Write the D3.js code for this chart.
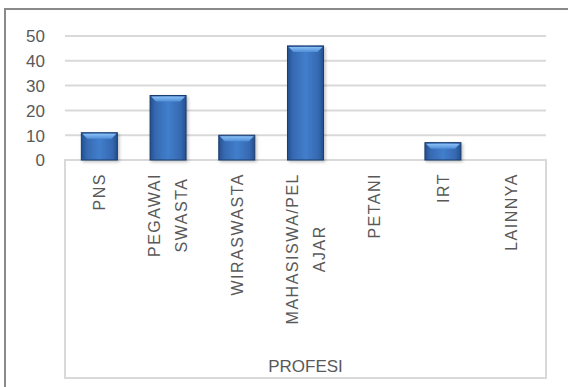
<!DOCTYPE html>
<html><head><meta charset="utf-8">
<script src="https://cdn.jsdelivr.net/npm/d3@7"></script>
<style>body{margin:0;background:#fff}svg{display:block}</style>
</head><body>
<svg id="c" width="568" height="387"></svg>
<script>
const categories = [["PNS"],["PEGAWAI","SWASTA"],["WIRASWASTA"],["MAHASISWA/PEL","AJAR"],["PETANI"],["IRT"],["LAINNYA"]];
const values = [11, 26, 10, 46, 0, 7, 0];
const yTicks = [0, 10, 20, 30, 40, 50];
const axisTitle = "PROFESI";

(function () {
const svg = d3.select("#c");
const pLeft = 65, pRight = 546, pTop = 36, base = 160, boxBottom = 378;
const font = "'Liberation Sans', Arial, sans-serif";
const txt = "#595959";

const keys = categories.map(d => d.join(" "));
const x = d3.scaleBand().domain(keys).range([pLeft, pRight]).paddingInner(0.476).paddingOuter(0.238);
const y = d3.scaleLinear().domain([0, 50]).range([base, pTop]);

// outer border
svg.append("rect").attr("x", 5).attr("y", 9).attr("width", 600).attr("height", 400)
  .attr("fill", "#fff").attr("stroke", "#8a8a8a").attr("stroke-width", 2);

// defs
const defs = svg.append("defs");
const g1 = defs.append("linearGradient").attr("id", "barg").attr("x1", 0).attr("x2", 1).attr("y1", 0).attr("y2", 0);
g1.append("stop").attr("offset", "0%").attr("stop-color", "#24508e");
g1.append("stop").attr("offset", "15%").attr("stop-color", "#3669b2");
g1.append("stop").attr("offset", "50%").attr("stop-color", "#417ecb");
g1.append("stop").attr("offset", "85%").attr("stop-color", "#3669b2");
g1.append("stop").attr("offset", "100%").attr("stop-color", "#24508e");
const g2 = defs.append("linearGradient").attr("id", "topg").attr("x1", 0).attr("x2", 0).attr("y1", 0).attr("y2", 1);
g2.append("stop").attr("offset", "0%").attr("stop-color", "#8cc0f5");
g2.append("stop").attr("offset", "100%").attr("stop-color", "#4f8fd8");
const f = defs.append("filter").attr("id", "sh").attr("x", "-30%").attr("y", "-10%").attr("width", "160%").attr("height", "130%");
f.append("feDropShadow").attr("dx", 1.5).attr("dy", 1.5).attr("stdDeviation", 1.5).attr("flood-color", "#000").attr("flood-opacity", 0.25);

// gridlines
svg.append("g").selectAll("line").data(yTicks.filter(t => t > 0)).join("line")
  .attr("x1", pLeft).attr("x2", pRight).attr("y1", d => y(d)).attr("y2", d => y(d))
  .attr("stroke", "#d9d9d9").attr("stroke-width", 2);

// category box
svg.append("rect").attr("x", pLeft).attr("y", base).attr("width", pRight - pLeft).attr("height", boxBottom - base)
  .attr("fill", "none").attr("stroke", "#d9d9d9").attr("stroke-width", 2);

// y axis labels
const ya = svg.append("g").attr("transform", `translate(${pLeft - 20},0)`)
  .call(d3.axisLeft(y).tickValues(yTicks).tickSize(0).tickPadding(0));
ya.select(".domain").remove();
ya.selectAll("text").attr("font-family", font).attr("font-size", 17).attr("fill", txt).attr("dy", "0.35em");

// bars
const bars = svg.append("g").selectAll("g").data(values.map((v, i) => ({v, k: keys[i]}))).join("g")
  .filter(d => d.v > 0);
bars.append("rect")
  .attr("x", d => x(d.k)).attr("y", d => y(d.v)).attr("width", x.bandwidth()).attr("height", d => base - y(d.v))
  .attr("fill", "url(#barg)").attr("stroke", "#1a3c6e").attr("stroke-width", 1).attr("filter", "url(#sh)");
bars.append("path")
  .attr("d", d => {
    const x0 = x(d.k) + 1, x1 = x(d.k) + x.bandwidth() - 1, y0 = y(d.v) + 1, b = 5;
    return `M${x0},${y0}L${x1},${y0}L${x1 - b},${y0 + b}L${x0 + b},${y0 + b}Z`;
  })
  .attr("fill", "url(#topg)");

// category labels
const lab = svg.append("g");
categories.forEach((lines, i) => {
  const cx = x(keys[i]) + x.bandwidth() / 2;
  const gap = 27;
  const texts = lines.map((ln, j) => {
    const xo = cx + (j - (lines.length - 1) / 2) * gap;
    return lab.append("text").text(ln)
      .attr("font-family", font).attr("font-size", 16).attr("fill", txt)
      .attr("letter-spacing", 1.5).attr("text-anchor", "middle").attr("data-x", xo);
  });
  const L = d3.max(texts, t => t.node().getComputedTextLength());
  const cy = 173 + L / 2;
  texts.forEach(t => {
    const xo = +t.attr("data-x");
    t.attr("transform", `translate(${xo + 5.8},${cy}) rotate(-90)`);
  });
});

// axis title
svg.append("text").text(axisTitle).attr("x", (pLeft + pRight) / 2).attr("y", 372)
  .attr("text-anchor", "middle").attr("font-family", font).attr("font-size", 17).attr("fill", txt);
})();
</script>
</body></html>
